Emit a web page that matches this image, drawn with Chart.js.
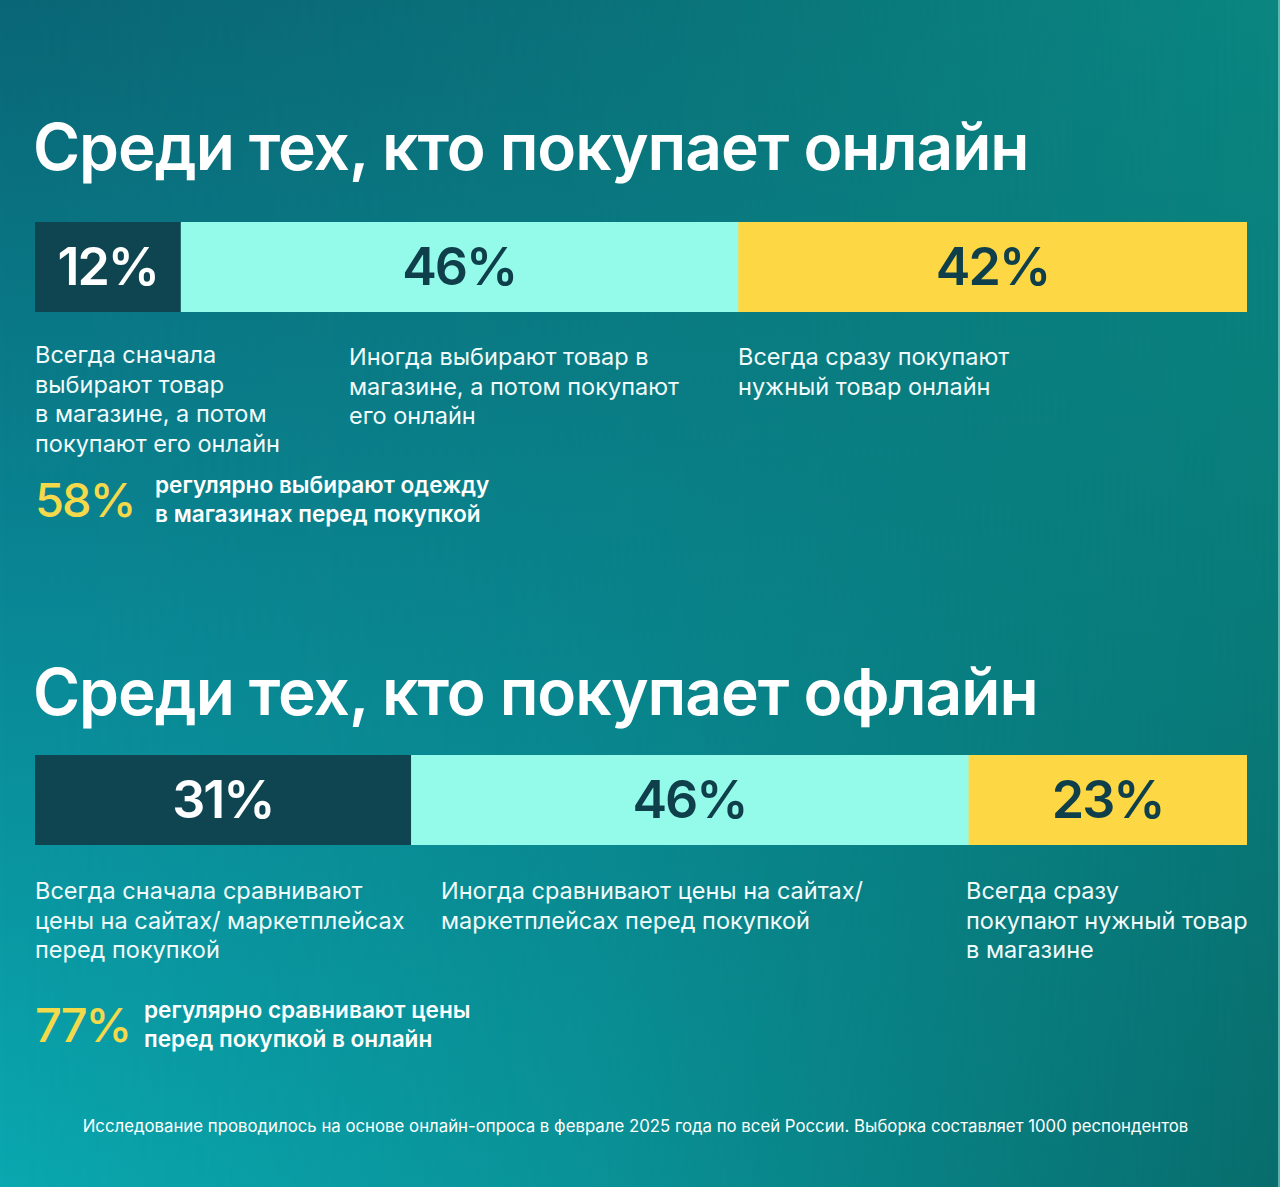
<!DOCTYPE html>
<html>
<head>
<meta charset="utf-8">
<script src="https://cdn.jsdelivr.net/npm/chart.js@4.4.1/dist/chart.umd.min.js"></script>
<style>
  html, body { margin:0; padding:0; }
  body { width:1280px; height:1187px; position:relative; overflow:hidden;
    font-family: Inter, "Open Sans", sans-serif; color:#fff;
    background: linear-gradient(to bottom, #0a6676 0%, #0a8a98 55%, #0aa8b0 100%); }
  #overlay { position:absolute; inset:0;
    background: linear-gradient(to bottom, #0a8680 0%, #087a78 55%, #086c6c 100%);
    -webkit-mask-image: linear-gradient(to right, transparent 0%, rgba(0,0,0,0.35) 45%, black 100%);
    mask-image: linear-gradient(to right, transparent 0%, rgba(0,0,0,0.35) 45%, black 100%); }
  .edge { position:absolute; right:0; top:0; width:2px; height:100%; background:#7fd0cc; opacity:0.7; }
  .title { position:absolute; left:33px; font-weight:600; font-size:64px; line-height:80px; white-space:nowrap; letter-spacing:-1.05px; }
  .chartbox { position:absolute; left:35px; width:1212px; height:90px; }
  .desc { position:absolute; font-size:23.5px; line-height:29.7px; font-weight:400; white-space:nowrap; color:#f2fbfb; }
  .big { position:absolute; left:35px; font-size:47px; font-weight:500; color:#f4d94a; white-space:nowrap; line-height:56px; letter-spacing:-2px; }
  .note { position:absolute; font-size:22.6px; line-height:28.5px; font-weight:600; white-space:nowrap; }
  .foot { position:absolute; left:0; width:1271px; text-align:center; top:1115px; font-size:16.8px; line-height:22px; color:#fff; }
</style>
</head>
<body>
<div id="overlay"></div>
<div class="edge"></div>

<div class="title" id="t1" style="top:107px">Среди тех, кто покупает онлайн</div>
<div class="chartbox" style="top:222px"><canvas id="c1" width="1212" height="90"></canvas></div>
<div class="desc" style="left:35px; top:340px">Всегда сначала<br>выбирают товар<br>в магазине, а потом<br>покупают его онлайн</div>
<div class="desc" style="left:349px; top:342px">Иногда выбирают товар в<br>магазине, а потом покупают<br>его онлайн</div>
<div class="desc" style="left:738px; top:342px">Всегда сразу покупают<br>нужный товар онлайн</div>
<div class="big" style="top:472px">58%</div>
<div class="note" style="left:155px; top:471px">регулярно выбирают одежду<br>в магазинах перед покупкой</div>

<div class="title" id="t2" style="top:652px">Среди тех, кто покупает офлайн</div>
<div class="chartbox" style="top:755px"><canvas id="c2" width="1212" height="90"></canvas></div>
<div class="desc" style="left:35px; top:876px">Всегда сначала сравнивают<br>цены на сайтах/ маркетплейсах<br>перед покупкой</div>
<div class="desc" style="left:441px; top:876px">Иногда сравнивают цены на сайтах/<br>маркетплейсах перед покупкой</div>
<div class="desc" style="left:966px; top:876px">Всегда сразу<br>покупают нужный товар<br>в магазине</div>
<div class="big" style="top:997px">77%</div>
<div class="note" style="left:144px; top:996px">регулярно сравнивают цены<br>перед покупкой в онлайн</div>

<div class="foot">Исследование проводилось на основе онлайн-опроса в феврале 2025 года по всей России. Выборка составляет 1000 респондентов</div>

<script>
// ---- data ----
const seriesNames = ["Всегда сначала", "Иногда", "Всегда сразу"];
const onlineValues = [12, 46, 42];
const offlineValues = [31, 46, 23];
const segmentColors = ["#0e4551", "#94fbea", "#fdd844"];
const labelColors = ["#ffffff", "#0e3f4a", "#0e3f4a"];

const labelPlugin = {
  id: 'segLabels',
  afterDatasetsDraw(chart) {
    const ctx = chart.ctx;
    ctx.save();
    ctx.font = '600 52px Inter, "Open Sans", sans-serif';
    if ('letterSpacing' in ctx) ctx.letterSpacing = '-2px';
    ctx.textAlign = 'center';
    ctx.textBaseline = 'middle';
    chart.data.datasets.forEach((ds, i) => {
      const el = chart.getDatasetMeta(i).data[0];
      const x = (el.x + el.base) / 2;
      ctx.fillStyle = labelColors[i];
      ctx.fillText(ds.data[0] + '%', x, el.y + 2);
    });
    ctx.restore();
  }
};

function makeBar(id, values) {
  new Chart(document.getElementById(id), {
    type: 'bar',
    data: {
      labels: [''],
      datasets: values.map((v, i) => ({
        label: seriesNames[i],
        data: [v],
        backgroundColor: segmentColors[i],
        borderWidth: 0,
        barPercentage: 1,
        categoryPercentage: 1
      }))
    },
    options: {
      indexAxis: 'y',
      responsive: false,
      animation: false,
      layout: { padding: 0 },
      plugins: { legend: { display: false }, tooltip: { enabled: false } },
      scales: {
        x: { stacked: true, min: 0, max: 100, display: false },
        y: { stacked: true, display: false }
      }
    },
    plugins: [labelPlugin]
  });
}
makeBar('c1', onlineValues);
makeBar('c2', offlineValues);
</script>
</body>
</html>
